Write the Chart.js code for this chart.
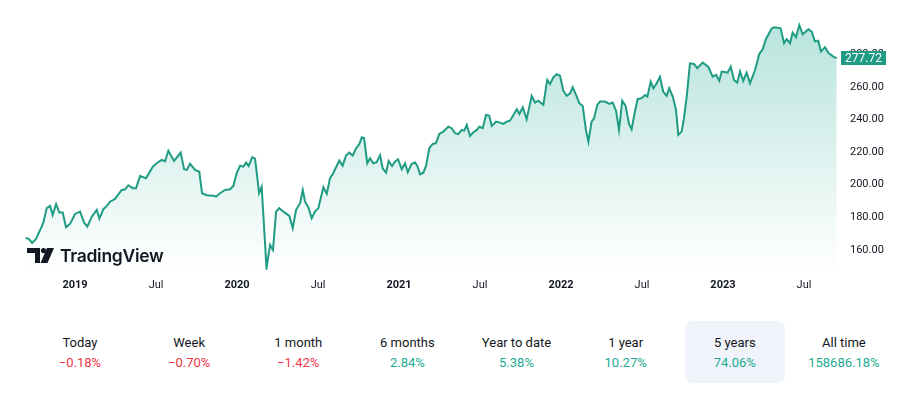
<!DOCTYPE html>
<html lang="en">
<head>
<meta charset="UTF-8">
<title>5 years</title>
<script src="https://cdn.jsdelivr.net/npm/chart.js"></script>
<style>
    body {
        margin: 0;
        padding: 0;
        background: #ffffff;
        font-family: Roboto, "Noto Sans", sans-serif;
        color: #131722;
    }
    .wrap {
        position: relative;
        width: 908px;
        height: 420px;
    }
    #chart {
        position: absolute;
        left: 0;
        top: 0;
    }
    .logo {
        position: absolute;
        left: 27px;
        top: 245px;
        display: flex;
        align-items: center;
        gap: 6px;
        font-family: Inter, sans-serif;
        font-weight: 600;
        font-size: 17.5px;
        color: #131722;
        letter-spacing: -0.3px;
    }
    .periods {
        position: absolute;
        left: 30px;
        top: 321px;
        display: flex;
        gap: 9.14px;
    }
    .period {
        width: 100px;
        height: 62px;
        box-sizing: border-box;
        padding-top: 12px;
        text-align: center;
        border-radius: 8px;
        font-size: 13px;
        line-height: 20px;
    }
    .period.active {
        background: #f0f3fa;
    }
    .up { color: #22ab94; }
    .down { color: #f23645; }
</style>
</head>
<body>
<div class="wrap">
    <canvas id="chart" width="908" height="300"></canvas>
    <div class="logo">
        <svg width="27" height="15" viewBox="0 0 27 15">
            <path d="M0 0 H13 V15 H8 V5 H0 Z" fill="#131722"/>
            <circle cx="16.5" cy="2.6" r="2.6" fill="#131722"/>
            <path d="M20 0 H27 L20.5 15 H13.5 Z" fill="#131722"/>
        </svg>
        <span>TradingView</span>
    </div>
    <div class="periods" id="periods"></div>
</div>
<script>
    // price history, dates as decimal years
    const dates = [
        2018.694, 2018.716, 2018.735, 2018.759, 2018.794, 2018.804, 2018.825, 2018.846, 2018.862, 2018.883,
        2018.903, 2018.924, 2018.944, 2018.969, 2019.000, 2019.031, 2019.056, 2019.076, 2019.103, 2019.134,
        2019.150, 2019.175, 2019.196, 2019.216, 2019.247, 2019.288, 2019.309, 2019.329, 2019.356, 2019.377,
        2019.401, 2019.438, 2019.480, 2019.504, 2019.535, 2019.556, 2019.576, 2019.611, 2019.652, 2019.673,
        2019.690, 2019.710, 2019.741, 2019.767, 2019.784, 2019.813, 2019.854, 2019.870, 2019.895, 2019.926,
        2019.957, 2019.977, 2019.998, 2020.019, 2020.039, 2020.056, 2020.072, 2020.094, 2020.111, 2020.122,
        2020.136, 2020.152, 2020.182, 2020.204, 2020.222, 2020.241, 2020.261, 2020.286, 2020.323, 2020.344,
        2020.364, 2020.389, 2020.406, 2020.420, 2020.440, 2020.461, 2020.481, 2020.502, 2020.533, 2020.554,
        2020.574, 2020.594, 2020.631, 2020.652, 2020.673, 2020.693, 2020.714, 2020.735, 2020.755, 2020.770,
        2020.784, 2020.804, 2020.821, 2020.841, 2020.862, 2020.883, 2020.899, 2020.920, 2020.936, 2020.957,
        2020.975, 2020.994, 2021.017, 2021.037, 2021.054, 2021.078, 2021.099, 2021.113, 2021.130, 2021.150,
        2021.167, 2021.187, 2021.208, 2021.228, 2021.249, 2021.273, 2021.304, 2021.325, 2021.346, 2021.366,
        2021.387, 2021.403, 2021.418, 2021.438, 2021.459, 2021.480, 2021.496, 2021.517, 2021.537, 2021.557,
        2021.572, 2021.599, 2021.623, 2021.644, 2021.665, 2021.685, 2021.706, 2021.727, 2021.743, 2021.764,
        2021.788, 2021.819, 2021.840, 2021.860, 2021.891, 2021.915, 2021.932, 2021.952, 2021.973, 2021.994,
        2022.014, 2022.035, 2022.056, 2022.072, 2022.093, 2022.113, 2022.134, 2022.154, 2022.169, 2022.189,
        2022.204, 2022.224, 2022.241, 2022.272, 2022.298, 2022.319, 2022.340, 2022.358, 2022.378, 2022.399,
        2022.420, 2022.436, 2022.452, 2022.473, 2022.498, 2022.519, 2022.533, 2022.554, 2022.570, 2022.591,
        2022.611, 2022.631, 2022.652, 2022.668, 2022.690, 2022.710, 2022.724, 2022.745, 2022.759, 2022.776,
        2022.796, 2022.821, 2022.841, 2022.875, 2022.909, 2022.936, 2022.957, 2022.977, 2022.992, 2023.029,
        2023.048, 2023.068, 2023.088, 2023.105, 2023.125, 2023.146, 2023.167, 2023.198, 2023.224, 2023.245,
        2023.265, 2023.301, 2023.321, 2023.356, 2023.377, 2023.393, 2023.414, 2023.430, 2023.451, 2023.471,
        2023.492, 2023.527, 2023.548, 2023.568, 2023.588, 2023.605, 2023.630, 2023.650, 2023.681, 2023.702
    ];
    const prices = [
        167.4, 166.7, 164.3, 166.7, 174.3, 176.7, 185.6, 187.0, 181.5, 188.2,
        182.9, 182.9, 173.9, 176.0, 182.1, 183.5, 176.7, 174.3, 180.4, 184.5,
        179.2, 185.0, 187.0, 189.6, 191.3, 196.8, 197.2, 199.7, 197.9, 197.9,
        205.4, 204.0, 211.1, 213.2, 215.2, 214.4, 220.9, 214.6, 219.7, 209.5,
        209.1, 212.8, 209.1, 208.0, 194.8, 193.6, 193.3, 192.7, 194.8, 196.8,
        197.2, 199.3, 207.1, 211.7, 211.1, 213.6, 211.5, 216.9, 216.0, 207.1,
        194.8, 198.8, 149.0, 163.1, 160.0, 183.5, 185.6, 183.5, 180.9, 173.3,
        184.5, 188.7, 196.8, 189.6, 186.2, 179.4, 183.5, 185.6, 198.5, 194.4,
        204.0, 207.1, 214.8, 211.7, 217.9, 219.7, 217.9, 222.4, 225.0, 229.1,
        228.7, 213.2, 216.3, 213.2, 213.8, 218.1, 210.1, 207.4, 214.6, 211.5,
        214.2, 215.6, 209.5, 213.2, 207.7, 212.8, 213.6, 211.5, 206.4, 207.4,
        211.7, 222.4, 225.0, 225.5, 231.2, 232.6, 235.6, 234.7, 231.6, 231.0,
        233.6, 233.2, 236.7, 229.9, 232.2, 233.6, 235.6, 234.7, 242.8, 242.4,
        236.1, 238.7, 238.1, 237.3, 238.7, 239.3, 242.8, 246.3, 243.4, 247.5,
        240.2, 254.5, 250.4, 251.6, 249.0, 264.3, 261.8, 265.7, 267.8, 266.9,
        257.7, 254.5, 256.1, 259.8, 255.1, 250.0, 248.3, 233.6, 226.4, 238.7,
        240.8, 249.0, 251.0, 251.0, 249.6, 250.4, 245.3, 233.6, 251.6, 248.3,
        237.3, 234.0, 242.8, 252.5, 253.1, 255.1, 254.1, 263.3, 259.2, 262.3,
        266.3, 257.1, 254.5, 259.2, 254.1, 245.9, 230.6, 232.6, 240.8, 254.1,
        274.5, 274.1, 271.5, 274.9, 272.5, 266.3, 267.4, 263.7, 269.4, 268.8,
        272.5, 264.3, 262.6, 269.4, 263.7, 268.8, 262.3, 270.4, 280.2, 283.1,
        289.3, 296.0, 296.6, 296.0, 286.8, 289.3, 286.8, 293.3, 290.5, 298.0,
        292.3, 295.4, 293.9, 287.8, 288.4, 281.7, 284.4, 281.0, 278.6, 277.72
    ];
    const xTicks = [2019, 2019.5, 2020, 2020.5, 2021, 2021.5, 2022, 2022.5, 2023, 2023.5];
    const yTicks = [160, 180, 200, 220, 240, 260, 280];
    const lastPrice = 277.72;

    const periodNames = ['Today', 'Week', '1 month', '6 months', 'Year to date', '1 year', '5 years', 'All time'];
    const periodChanges = [-0.18, -0.70, -1.42, 2.84, 5.38, 10.27, 74.06, 158686.18];
    const activePeriod = '5 years';

    const green = '#1f9c83';
    const textColor = '#131722';

    const periodsEl = document.getElementById('periods');
    periodNames.forEach((name, i) => {
        const v = periodChanges[i];
        const div = document.createElement('div');
        div.className = 'period' + (name === activePeriod ? ' active' : '');
        const txt = (v < 0 ? '\u2212' + Math.abs(v).toFixed(2) : v.toFixed(2)) + '%';
        div.innerHTML = '<div>' + name + '</div><div class="' + (v < 0 ? 'down' : 'up') + '">' + txt + '</div>';
        periodsEl.appendChild(div);
    });

    // last price badge on the right axis
    const priceBadge = {
        id: 'priceBadge',
        afterDraw(chart) {
            const c = chart.ctx;
            const y = chart.scales.y.getPixelForValue(lastPrice);
            const x = chart.chartArea.right + 3;
            c.save();
            c.fillStyle = green;
            c.fillRect(x, Math.round(y) - 7, 45, 14);
            c.fillStyle = '#ffffff';
            c.font = '12px Roboto, sans-serif';
            c.textAlign = 'center';
            c.textBaseline = 'middle';
            c.fillText(lastPrice.toFixed(2), x + 22.5, Math.round(y) + 0.5);
            c.restore();
        }
    };

    const ctx = document.getElementById('chart').getContext('2d');
    new Chart(ctx, {
        type: 'line',
        data: {
            datasets: [{
                data: dates.map((d, i) => ({ x: d, y: prices[i] })),
                borderColor: green,
                borderWidth: 2,
                pointRadius: 0,
                tension: 0,
                fill: 'start',
                backgroundColor: (context) => {
                    const area = context.chart.chartArea;
                    if (!area) return 'rgba(34,171,148,0.15)';
                    const g = context.chart.ctx.createLinearGradient(0, area.top, 0, area.bottom);
                    g.addColorStop(0, 'rgba(34,171,148,0.34)');
                    g.addColorStop(1, 'rgba(34,171,148,0.0)');
                    return g;
                }
            }]
        },
        options: {
            responsive: false,
            animation: false,
            layout: { padding: { left: 25, top: 10, right: 0, bottom: 0 } },
            plugins: {
                legend: { display: false },
                tooltip: { enabled: false }
            },
            scales: {
                x: {
                    type: 'linear',
                    min: 2018.691,
                    max: 2023.710,
                    grid: { display: false, drawTicks: false },
                    border: { display: false },
                    afterBuildTicks: (scale) => { scale.ticks = xTicks.map(v => ({ value: v })); },
                    afterFit: (scale) => {
                        scale.height = 30;
                        scale.paddingLeft = 0;
                        scale.paddingRight = 0;
                    },
                    ticks: {
                        padding: 9,
                        maxRotation: 0,
                        autoSkip: false,
                        color: textColor,
                        font: (c) => ({
                            family: 'Roboto, sans-serif',
                            size: 11,
                            weight: c.tick && Number.isInteger(c.tick.value) ? 'bold' : 'normal'
                        }),
                        callback: (v) => Number.isInteger(v) ? String(v) : 'Jul'
                    }
                },
                y: {
                    position: 'right',
                    min: 147.7,
                    max: 307.2,
                    grid: { display: false, drawTicks: false },
                    border: { display: false },
                    afterBuildTicks: (scale) => { scale.ticks = yTicks.map(v => ({ value: v })); },
                    afterFit: (scale) => {
                        scale.width = 70;
                        scale.paddingTop = 0;
                        scale.paddingBottom = 0;
                    },
                    ticks: {
                        padding: 12,
                        color: textColor,
                        font: { family: 'Roboto, sans-serif', size: 11 },
                        callback: (v) => v.toFixed(2)
                    }
                }
            }
        },
        plugins: [priceBadge]
    });
</script>
</body>
</html>
